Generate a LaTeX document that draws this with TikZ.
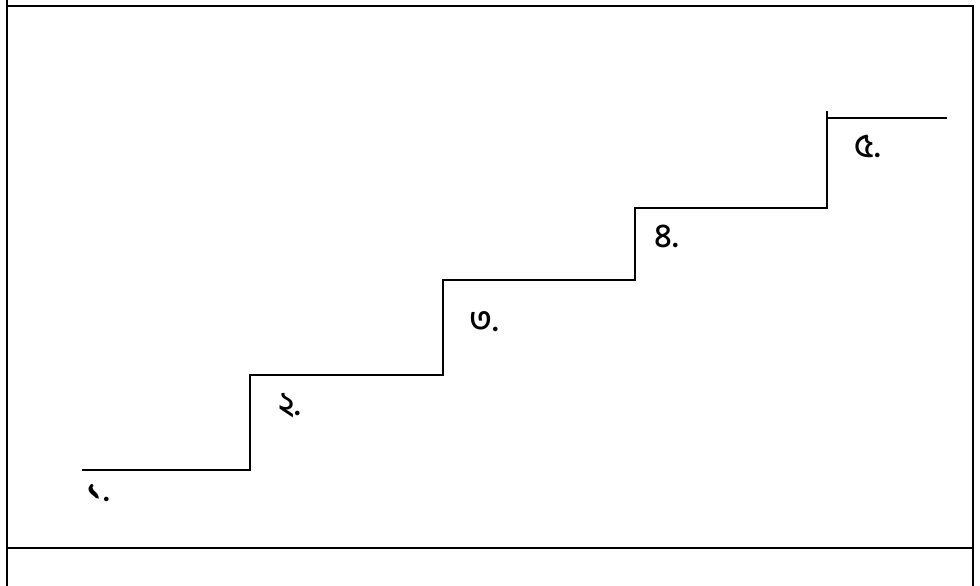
\documentclass[tikz,border=0pt]{standalone}
\usepackage{fontspec}
\newfontfamily\bnfont[Script=Bengali,UprightFont={* Medium}]{Hind Siliguri}
\tikzstyle{stair} = [draw,line width=1.6pt]
\tikzstyle{frame} = [draw,line width=1.6pt]
\tikzstyle{num} = [font=\bnfont\fontsize{34}{40}\selectfont,inner sep=0pt]

\begin{document}
\begin{tikzpicture}[x=1pt,y=-1pt]
\useasboundingbox (0,0) rectangle (980,586);
\draw [frame] (7,0) -- (7,586);
\draw [frame] (7,6) -- (973,6) -- (973,586);
\draw [frame] (7,548) -- (973,548);
\draw [stair] (82,470) -- (250,470) -- (250,375) -- (443,375) -- (443,280)
  -- (635,280) -- (635,208) -- (827,208) -- (827,111);
\draw [stair] (827,118) -- (947,118);
\node (n1) at (98,493) [num] {১.};
\node (n2) at (290,406) [num] {২.};
\node (n3) at (484,322) [num] {৩.};
\node (n4) at (667,236) [num] {৪.};
\node (n5) at (868,146) [num] {৫.};
\end{tikzpicture}
\end{document}
